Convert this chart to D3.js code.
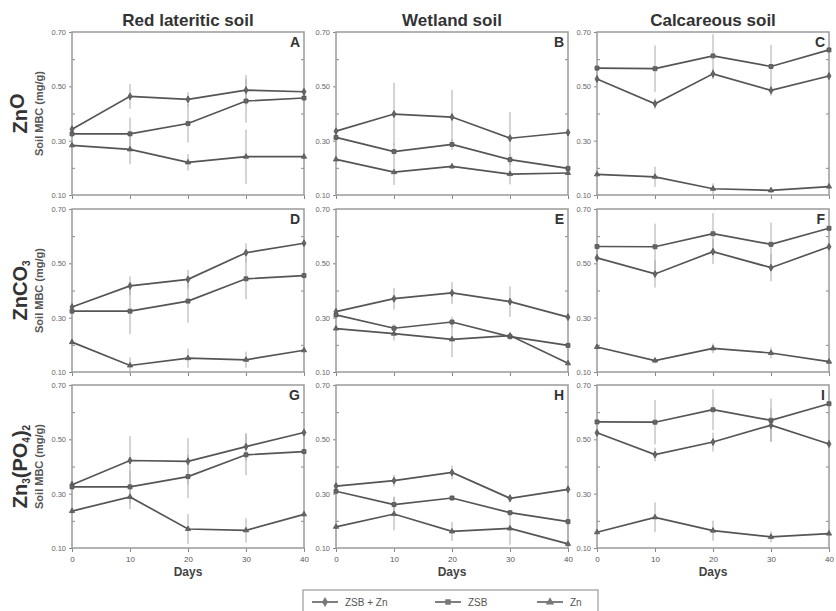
<!DOCTYPE html>
<html lang="en">
  <head>
    <meta charset="UTF-8" />
    <title>Soil MBC</title>
    <style>
      body { margin: 0; background: #fff; }
      svg { font-family: "Liberation Sans", Arial, sans-serif; }
    </style>
  </head>
  <body>
    <svg id="svg" width="836" height="611"></svg>

    <script src="https://cdn.jsdelivr.net/npm/d3@7"></script>
    <script>
      // data
      const days = [0, 10, 20, 30, 40];
      const soils = ["Red lateritic soil", "Wetland soil", "Calcareous soil"];
      const sources = [["Zn", "O"], ["ZnCO", "3"], ["Zn", "3", "(PO", "4", ")", "2"]];
      const seriesNames = ["ZSB + Zn", "ZSB", "Zn"];
      const yTicks = [0.1, 0.3, 0.5, 0.7];
      const minorTicks = [0.2, 0.4, 0.6];
      const panelLetters = ["A", "B", "C", "D", "E", "F", "G", "H", "I"];

      const zsbZn = [
        [0.342, 0.463, 0.452, 0.486, 0.48],
        [0.335, 0.398, 0.387, 0.309, 0.33],
        [0.527, 0.436, 0.546, 0.485, 0.538],
        [0.339, 0.417, 0.441, 0.539, 0.574],
        [0.322, 0.37, 0.391, 0.359, 0.302],
        [0.52, 0.461, 0.543, 0.484, 0.561],
        [0.333, 0.422, 0.419, 0.473, 0.525],
        [0.328, 0.348, 0.378, 0.283, 0.316],
        [0.524, 0.444, 0.49, 0.552, 0.483],
      ];
      const zsb = [
        [0.325, 0.325, 0.363, 0.446, 0.457],
        [0.312, 0.26, 0.286, 0.23, 0.198],
        [0.567, 0.565, 0.612, 0.573, 0.634],
        [0.324, 0.324, 0.361, 0.443, 0.455],
        [0.31, 0.261, 0.284, 0.23, 0.198],
        [0.562, 0.561, 0.609, 0.57, 0.629],
        [0.325, 0.325, 0.363, 0.443, 0.455],
        [0.309, 0.26, 0.284, 0.23, 0.197],
        [0.564, 0.563, 0.609, 0.57, 0.631],
      ];
      const zn = [
        [0.283, 0.268, 0.22, 0.241, 0.241],
        [0.231, 0.184, 0.205, 0.177, 0.181],
        [0.176, 0.167, 0.123, 0.117, 0.131],
        [0.21, 0.124, 0.151, 0.145, 0.18],
        [0.26, 0.241, 0.22, 0.234, 0.132],
        [0.192, 0.142, 0.187, 0.17, 0.138],
        [0.236, 0.288, 0.17, 0.165, 0.224],
        [0.178, 0.225, 0.161, 0.172, 0.115],
        [0.158, 0.213, 0.164, 0.141, 0.153],
      ];

      // standard errors
      const zsbZnErr = [
        [0.01, 0.046, 0.026, 0.055, 0.01],
        [0.01, 0.115, 0.1, 0.097, 0.01],
        [0.01, 0.02, 0.02, 0.02, 0.01],
        [0.01, 0.035, 0.035, 0.035, 0.01],
        [0.01, 0.04, 0.04, 0.056, 0.01],
        [0.01, 0.05, 0.046, 0.05, 0.01],
        [0.01, 0.09, 0.085, 0.05, 0.01],
        [0.01, 0.022, 0.025, 0.015, 0.01],
        [0.01, 0.025, 0.035, 0.06, 0.01],
      ];
      const zsbErr = [
        [0.01, 0.06, 0.07, 0.08, 0.01],
        [0.01, 0.03, 0.02, 0.02, 0.01],
        [0.01, 0.085, 0.08, 0.08, 0.01],
        [0.01, 0.085, 0.08, 0.075, 0.01],
        [0.01, 0.015, 0.02, 0.01, 0.01],
        [0.01, 0.085, 0.076, 0.08, 0.01],
        [0.01, 0.06, 0.08, 0.075, 0.01],
        [0.01, 0.03, 0.01, 0.01, 0.01],
        [0.01, 0.082, 0.075, 0.08, 0.01],
      ];
      const znErr = [
        [0.01, 0.055, 0.03, 0.1, 0.01],
        [0.015, 0.047, 0.01, 0.038, 0.01],
        [0.01, 0.037, 0.02, 0.01, 0.01],
        [0.01, 0.03, 0.035, 0.03, 0.01],
        [0.01, 0.025, 0.065, 0.01, 0.01],
        [0.01, 0.01, 0.018, 0.02, 0.01],
        [0.01, 0.045, 0.055, 0.045, 0.01],
        [0.01, 0.06, 0.035, 0.06, 0.01],
        [0.01, 0.055, 0.037, 0.02, 0.01],
      ];

      // layout
      const COL_X = [72, 336, 597];
      const ROW_Y = [32, 209, 385];
      const PW = 232;
      const PH = 163;
      const LINE = "#555";
      const FRAME = "#9a9a9a";
      const TEXT = "#333";

      const symbols = [d3.symbolDiamond, d3.symbolSquare, d3.symbolTriangle];
      const symSize = [14, 16, 12];
      const valueSets = [zsbZn, zsb, zn];
      const errSets = [zsbZnErr, zsbErr, znErr];

      const svg = d3.select("#svg");

      function drawPanel(row, col) {
        const idx = row * 3 + col;
        const x = d3.scaleLinear().domain([0, 40]).range([COL_X[col], COL_X[col] + PW]);
        const y = d3.scaleLinear().domain([0.1, 0.7]).range([ROW_Y[row] + PH, ROW_Y[row]]);
        const g = svg.append("g");

        // axes
        const left = g.append("g")
          .attr("transform", `translate(${COL_X[col]},0)`)
          .call(d3.axisLeft(y).tickValues(yTicks).tickFormat(d3.format(".2f")).tickSize(3).tickPadding(3));
        left.selectAll("text").attr("font-size", 7.5).attr("fill", "#666");

        g.append("g")
          .attr("transform", `translate(${COL_X[col]},0)`)
          .call(d3.axisRight(y).tickValues(minorTicks).tickSize(3).tickFormat(""));
        g.append("g")
          .attr("transform", `translate(${COL_X[col] + PW},0)`)
          .call(d3.axisLeft(y).tickValues(minorTicks).tickSize(3).tickFormat(""));

        const bottom = g.append("g")
          .attr("transform", `translate(0,${ROW_Y[row] + PH})`)
          .call(d3.axisBottom(x).tickValues(days).tickSize(4).tickPadding(4)
            .tickFormat(row === 2 ? d3.format("d") : ""));
        bottom.selectAll("text").attr("font-size", 8).attr("fill", "#555");

        g.selectAll(".domain").remove();
        g.selectAll(".tick line").attr("stroke", "#888");

        // frame
        g.append("rect")
          .attr("x", COL_X[col])
          .attr("y", ROW_Y[row])
          .attr("width", PW)
          .attr("height", PH)
          .attr("fill", "none")
          .attr("stroke", FRAME)
          .attr("stroke-width", 1.5);

        // error bars
        valueSets.forEach((vals, s) => {
          const pts = days.map((d, i) => ({ day: d, v: vals[idx][i], e: errSets[s][idx][i] }));
          g.append("g")
            .selectAll("line")
            .data(pts)
            .enter()
            .append("line")
            .attr("x1", (d) => x(d.day))
            .attr("x2", (d) => x(d.day))
            .attr("y1", (d) => y(d.v - d.e))
            .attr("y2", (d) => y(d.v + d.e))
            .attr("stroke", "#aaa")
            .attr("stroke-width", 1);
        });

        // lines + markers
        const lineGen = d3.line().x((d) => x(d.day)).y((d) => y(d.v));
        valueSets.forEach((vals, s) => {
          const pts = days.map((d, i) => ({ day: d, v: vals[idx][i] }));
          g.append("path")
            .attr("d", lineGen(pts))
            .attr("fill", "none")
            .attr("stroke", LINE)
            .attr("stroke-width", 1.7);
          g.append("g")
            .selectAll("path")
            .data(pts)
            .enter()
            .append("path")
            .attr("transform", (d) => `translate(${x(d.day)},${y(d.v)})`)
            .attr("d", d3.symbol().type(symbols[s]).size(symSize[s]))
            .attr("fill", "#666")
            .attr("stroke", "#555")
            .attr("stroke-width", 0.8);
        });

        // panel letter
        g.append("text")
          .attr("x", COL_X[col] + PW - 4)
          .attr("y", ROW_Y[row] + 15)
          .attr("text-anchor", "end")
          .attr("font-size", 14)
          .attr("font-weight", "bold")
          .attr("fill", TEXT)
          .text(panelLetters[idx]);

        if (row === 2) {
          g.append("text")
            .attr("x", COL_X[col] + PW / 2)
            .attr("y", ROW_Y[row] + PH + 28)
            .attr("text-anchor", "middle")
            .attr("font-size", 12)
            .attr("font-weight", "bold")
            .attr("fill", "#444")
            .text("Days");
        }
      }

      for (let r = 0; r < 3; r++) {
        for (let c = 0; c < 3; c++) drawPanel(r, c);
      }

      // column titles
      soils.forEach((s, c) => {
        svg.append("text")
          .attr("x", COL_X[c] + PW / 2)
          .attr("y", 26)
          .attr("text-anchor", "middle")
          .attr("font-size", 17)
          .attr("font-weight", "bold")
          .attr("fill", TEXT)
          .text(s);
      });

      // row labels (rotated)
      sources.forEach((parts, r) => {
        const cy = ROW_Y[r] + PH / 2;
        const t = svg.append("text")
          .attr("transform", `translate(27,${cy}) rotate(-90)`)
          .attr("text-anchor", "middle")
          .attr("font-size", 20)
          .attr("font-weight", "bold")
          .attr("fill", TEXT);
        parts.forEach((p, i) => {
          const sub = /^\d$/.test(p);
          t.append("tspan")
            .attr("font-size", sub ? 10 : 20)
            .attr("dy", sub ? 3 : i > 0 ? -3 : 0)
            .text(p);
        });
        svg.append("text")
          .attr("transform", `translate(43,${cy}) rotate(-90)`)
          .attr("text-anchor", "middle")
          .attr("font-size", 11)
          .attr("font-weight", "bold")
          .attr("fill", "#555")
          .text("Soil MBC (mg/g)");
      });

      // legend
      const legend = svg.append("g");
      legend.append("rect")
        .attr("x", 303)
        .attr("y", 590)
        .attr("width", 295)
        .attr("height", 30)
        .attr("fill", "#fff")
        .attr("stroke", FRAME)
        .attr("stroke-width", 1.2);
      const legX = [312, 435, 537];
      seriesNames.forEach((name, i) => {
        const item = legend.append("g").attr("transform", `translate(${legX[i]},602)`);
        item.append("line")
          .attr("x1", 0).attr("x2", 26)
          .attr("stroke", LINE).attr("stroke-width", 1.5);
        item.append("path")
          .attr("transform", "translate(13,0)")
          .attr("d", d3.symbol().type(symbols[i]).size(30))
          .attr("fill", "#777");
        item.append("text")
          .attr("x", 33)
          .attr("y", 4)
          .attr("font-size", 10)
          .attr("fill", "#555")
          .text(name);
      });
    </script>
  </body>
</html>
